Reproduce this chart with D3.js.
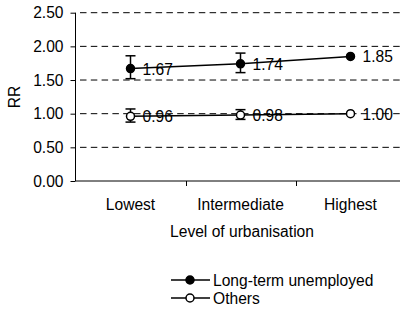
<!DOCTYPE html>
<html><head><meta charset="utf-8">
<script src="https://cdn.jsdelivr.net/npm/d3@7"></script>
<style>body{margin:0;background:#fff}text{font-family:"Liberation Sans",Arial,sans-serif;fill:#000}</style>
</head><body><svg id="c" width="400" height="310"></svg>
<script>
const categories = ["Lowest", "Intermediate", "Highest"];
const longTerm = [1.67, 1.74, 1.85];
const longTermLow = [1.52, 1.61, null];
const longTermHigh = [1.86, 1.90, null];
const others = [0.96, 0.98, 1.00];
const othersLow = [0.875, 0.915, null];
const othersHigh = [1.07, 1.06, null];
const yTicks = [0, 0.5, 1.0, 1.5, 2.0, 2.5];
const seriesNames = ["Long-term unemployed", "Others"];

const svg = d3.select("#c");
const x = d3.scaleBand().domain(categories).range([75.5, 405.5]);
const y = d3.scaleLinear().domain([0, 2.5]).range([181, 12.7]);
const fs = "15.6px";

// gridlines
svg.append("g").selectAll("line").data(yTicks.slice(1)).join("line")
  .attr("x1", 80).attr("x2", 405).attr("y1", d => y(d)).attr("y2", d => y(d))
  .attr("stroke", "#000").attr("stroke-dasharray", "6.5,4.3").attr("stroke-width", 1);

// y axis
const ya = svg.append("g").attr("transform", "translate(75.5,0)")
  .call(d3.axisLeft(y).tickValues(yTicks).tickFormat(d3.format(".2f")).tickSize(5).tickPadding(7));
ya.selectAll("text").style("font-size", fs);
ya.select(".domain").attr("d", `M0,${y(2.5)}V${y(0)}`);

// x axis
const xa = svg.append("g").attr("transform", `translate(0,${y(0)})`);
xa.append("line").attr("x1", 75.5).attr("x2", 405).attr("stroke", "#000");
xa.selectAll("line.tk").data(categories.slice(1)).join("line").attr("class","tk")
  .attr("x1", d => Math.round(x(d))+0.5).attr("x2", d => Math.round(x(d))+0.5).attr("y1", 0).attr("y2", 5).attr("stroke", "#000");
xa.selectAll("text").data(categories).join("text")
  .attr("x", d => x(d) + x.bandwidth()/2).attr("y", 29).attr("text-anchor", "middle").style("font-size", fs).text(d => d);

svg.append("text").attr("x", 242).attr("y", 237).attr("text-anchor", "middle").style("font-size", fs).text("Level of urbanisation");
svg.append("text").attr("transform", "translate(20,97) rotate(-90)").attr("text-anchor", "middle").style("font-size", fs).text("RR");

const cx = d => x(d) + x.bandwidth()/2;
function drawSeries(vals, lo, hi, fill) {
  const g = svg.append("g");
  g.append("path").datum(vals)
    .attr("d", d3.line().x((d, i) => cx(categories[i])).y(d => y(d)))
    .attr("fill", "none").attr("stroke", "#000").attr("stroke-width", 1.5);
  vals.forEach((v, i) => {
    const X = cx(categories[i]);
    if (lo[i] != null) {
      g.append("line").attr("x1", X).attr("x2", X).attr("y1", y(lo[i])).attr("y2", y(hi[i])).attr("stroke", "#000").attr("stroke-width", 1.5);
      [lo[i], hi[i]].forEach(e => g.append("line").attr("x1", X-5).attr("x2", X+5).attr("y1", y(e)).attr("y2", y(e)).attr("stroke", "#000").attr("stroke-width", 1.5));
    }
    g.append("circle").attr("cx", X).attr("cy", y(v)).attr("r", 4).attr("fill", fill).attr("stroke", "#000").attr("stroke-width", 1.5);
    g.append("text").attr("x", X + 12).attr("y", y(v)).attr("dy", "0.38em").style("font-size", fs).text(d3.format(".2f")(v));
  });
}
drawSeries(longTerm, longTermLow, longTermHigh, "#000");
drawSeries(others, othersLow, othersHigh, "#fff");

// legend
const fills = ["#000", "#fff"];
const lg = svg.append("g");
seriesNames.forEach((n, i) => {
  const yy = 280 + i*18;
  lg.append("line").attr("x1", 171).attr("x2", 210).attr("y1", yy).attr("y2", yy).attr("stroke", "#000").attr("stroke-width", 1.5);
  lg.append("circle").attr("cx", 190).attr("cy", yy).attr("r", 4).attr("fill", fills[i]).attr("stroke", "#000").attr("stroke-width", 1.5);
  lg.append("text").attr("x", 213).attr("y", yy).attr("dy", "0.36em").style("font-size", fs).text(n);
});
</script></body></html>
